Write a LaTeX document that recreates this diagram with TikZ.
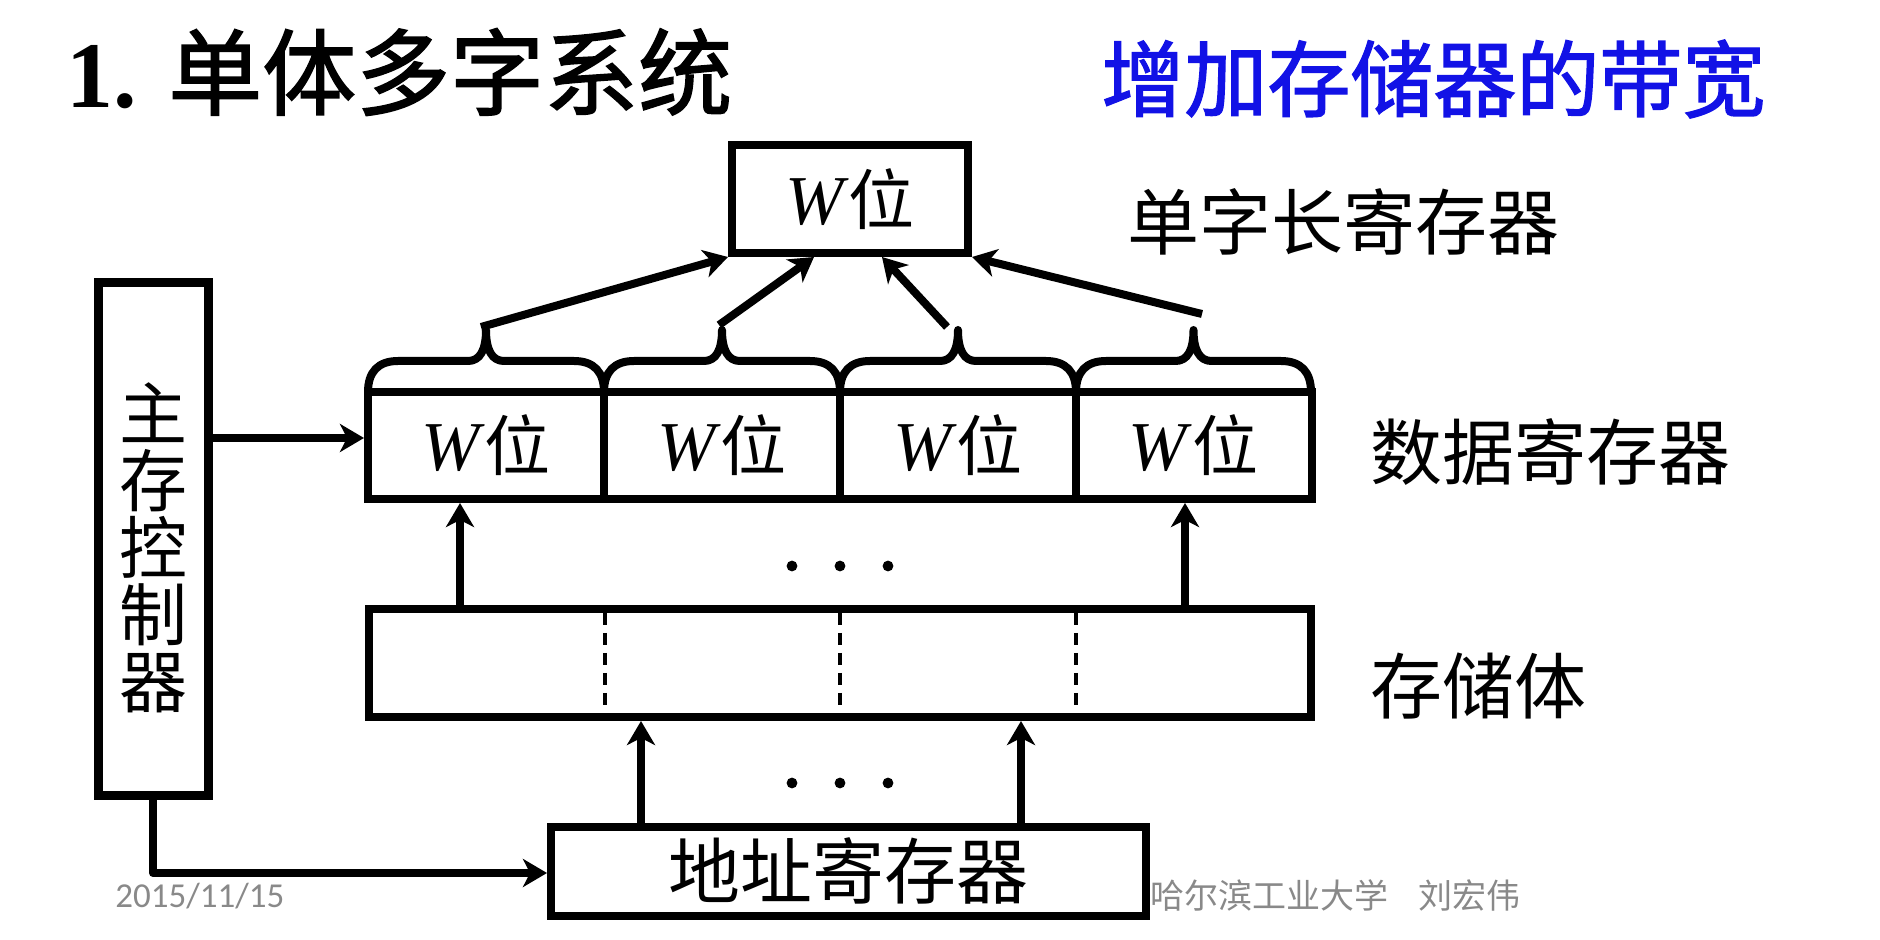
\documentclass[tikz,border=0pt]{standalone}
\usepackage{fontspec}
\setmainfont{Liberation Serif}
\newfontfamily\cjk{Noto Sans CJK SC}
\newfontfamily\cjkhead{Noto Sans CJK SC}[FakeBold=1.6]
\newfontfamily\datefont{Carlito}
\usetikzlibrary{arrows.meta,calc}
\definecolor{titleblue}{RGB}{18,18,230}
\definecolor{footgray}{RGB}{137,137,137}
\newcommand{\wbit}{{\fontsize{35}{35}\selectfont\textit{W}}{\cjk 位}}

\begin{document}
\begin{tikzpicture}[x=0.5pt,y=-0.5pt,
  frame/.style={draw,line width=4pt,inner sep=0pt},
  wcell/.style={frame,minimum width=118pt,minimum height=53.5pt,
    font=\fontsize{33}{33}\selectfont},
  label/.style={anchor=west,inner sep=0pt,font=\cjk\fontsize{36}{36}\selectfont},
  arr/.style={line width=4pt,-{Stealth[length=12pt,width=14pt,inset=3.5pt]}},
  brace/.style={line width=4pt,line join=round},
  divider/.style={line width=1.6pt,dash pattern=on 6pt off 4pt},
  foot/.style={anchor=west,inner sep=0pt,text=footgray}]

\useasboundingbox (0,0) rectangle (1880,940);

% headings
\node[anchor=west,inner sep=0pt,font=\fontsize{47}{47}\selectfont] (title) at (66,72)
  {\textbf{1.} {\cjkhead 单体多字系统}};
\node[anchor=west,inner sep=0pt,text=titleblue,font=\cjkhead\fontsize{41.5}{41.5}\selectfont]
  (subtitle) at (1101,79) {增加存储器的带宽};

% single-word register
\node[wcell,minimum height=54pt] (top) at (850,199) {\wbit};
\node[label] (ltop) at (1127,222) {单字长寄存器};

% main memory controller
\node[frame,line width=4.5pt,minimum width=55pt,minimum height=256pt] (ctrl) at (153,539) {};
\node[align=center,inner sep=0pt,font=\cjk\fontsize{34}{33.5}\selectfont] (ctrltext) at (153,548)
  {主\\存\\控\\制\\器};

% data register: four W-bit cells
\node[wcell] (d1) at (486,445.5) {\wbit};
\node[wcell] (d2) at (722,445.5) {\wbit};
\node[wcell] (d3) at (958,445.5) {\wbit};
\node[wcell] (d4) at (1193.5,445.5) {\wbit};
\node[label] (ldata) at (1370,452) {数据寄存器};

% memory body
\node[frame,minimum width=471pt,minimum height=54pt] (st) at (840,663) {};
\foreach \x in {605,840,1076}
  \draw[divider] (\x,613) -- (\x,705);
\node[label] (lstore) at (1370,686) {存储体};

% address register
\node[frame,minimum width=297.5pt,minimum height=44.5pt,font=\cjk\fontsize{36}{36}\selectfont]
  (addr) at (848.5,871) {地址寄存器};

% braces over the cells
\foreach \xl/\xr in {368/604,604/840,840/1076,1076/1311} {
  \pgfmathsetmacro\xm{(\xl+\xr)/2}
  \draw[brace] (\xl,392) .. controls (\xl,372) and (\xl+10,361) .. (\xl+30,361)
    -- (\xm-18,361) .. controls (\xm-6,361) and (\xm,350) .. (\xm,330)
    .. controls (\xm,350) and (\xm+6,361) .. (\xm+18,361)
    -- (\xr-30,361) .. controls (\xr-10,361) and (\xr,372) .. (\xr,392);
}

% arrows from the braces into the single-word register
\coordinate (t1) at (481,327);
\coordinate (t2) at (719,325);
\coordinate (t3) at (947,327);
\coordinate (t4) at (1202,314);
\draw[arr] (t1) -- (top.south west);
\draw[arr] (t2) -- ($(top.south)+(-36,0)$);
\draw[arr] (t3) -- ($(top.south)+(32,0)$);
\draw[arr] (t4) -- (top.south east);

% controller to data register
\coordinate (cy) at (0,438);
\draw[arr] (ctrl.east |- cy) -- (d1.west |- cy);

% memory body to data register
\coordinate (ax1) at (460,0);
\coordinate (ax2) at (1185,0);
\draw[arr] (ax1 |- st.north) -- (ax1 |- d1.south);
\draw[arr] (ax2 |- st.north) -- (ax2 |- d4.south);

% address register to memory body
\coordinate (bx1) at (641,0);
\coordinate (bx2) at (1021,0);
\draw[arr] (bx1 |- addr.north) -- (bx1 |- st.south);
\draw[arr] (bx2 |- addr.north) -- (bx2 |- st.south);

% controller to address register
\coordinate (cx) at (0,873);
\draw[arr,line join=round] (ctrl.south) -- (ctrl.south |- cx) -- (addr.west |- cx);

% ellipses
\foreach \x in {792,840,888} {
  \fill (\x,566) circle[radius=2.7pt];
  \fill (\x,783) circle[radius=2.7pt];
}

% footer
\node[foot,font=\datefont\fontsize{17.5}{17.5}\selectfont] (date) at (115,896) {2015/11/15};
\node[foot,font=\cjk\fontsize{17}{17}\selectfont] (author) at (1150,895)
  {哈尔滨工业大学\hspace{0.9em}刘宏伟};
\end{tikzpicture}
\end{document}
